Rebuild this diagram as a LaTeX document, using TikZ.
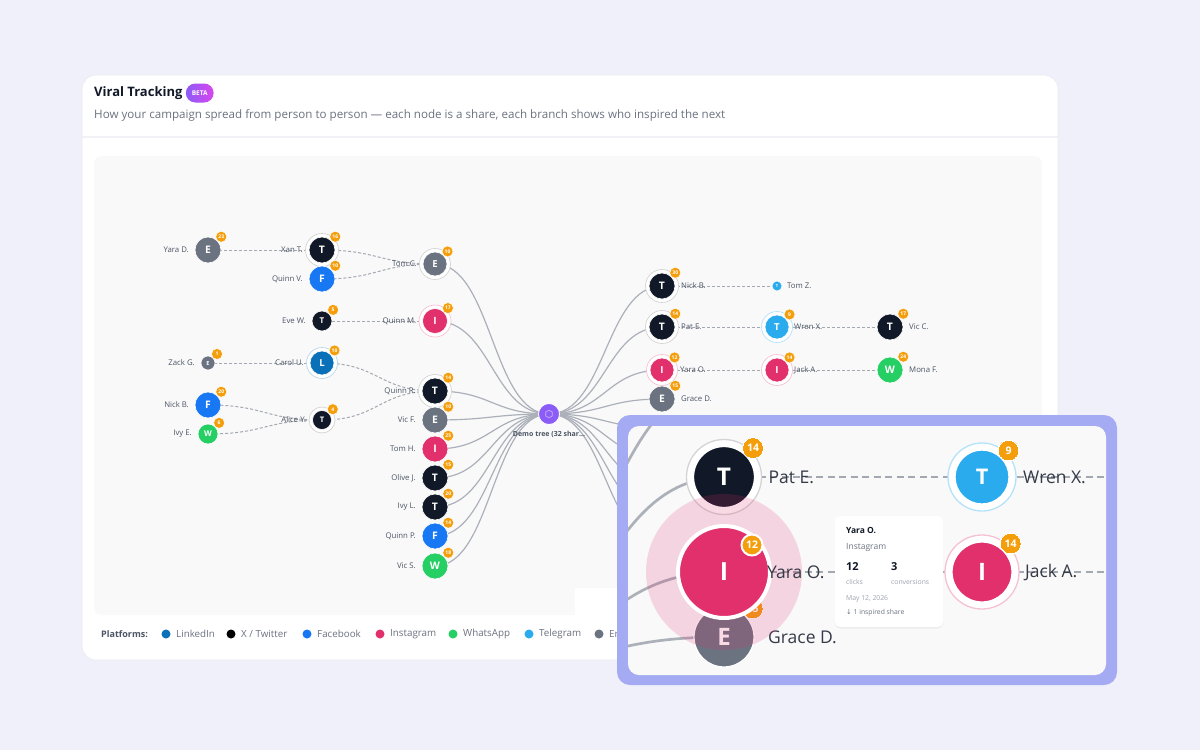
\documentclass[tikz,border=0pt]{standalone}
\usepackage{fontspec}
\setmainfont{Open Sans}
\newfontfamily\symfont{DejaVu Sans}
\usetikzlibrary{calc,positioning,shadows}

\definecolor{pageBg}{HTML}{F0F0FB}
\definecolor{cardLine}{HTML}{E9E9F1}
\definecolor{plotBg}{HTML}{F9F9FA}
\definecolor{inkDark}{HTML}{111827}
\definecolor{inkMid}{HTML}{4B5563}
\definecolor{inkSoft}{HTML}{6B7280}
\definecolor{inkFaint}{HTML}{9CA3AF}
\definecolor{linkGray}{HTML}{ABB0B9}
\definecolor{dashGray}{HTML}{A3A8B1}
\definecolor{xTwitter}{HTML}{111827}
\definecolor{linkedIn}{HTML}{0A70B8}
\definecolor{facebook}{HTML}{1877F2}
\definecolor{instagram}{HTML}{E1306C}
\definecolor{whatsApp}{HTML}{25CF63}
\definecolor{telegram}{HTML}{2AABEE}
\definecolor{emailGray}{HTML}{6B7280}
\definecolor{badgeOrange}{HTML}{F59E0B}
\definecolor{rootPurple}{HTML}{8B5CF6}
\definecolor{betaLeft}{HTML}{8B5CF6}
\definecolor{betaRight}{HTML}{D946EF}
\definecolor{zoomFrame}{HTML}{A5ABF2}

\pgfdeclarelayer{card}
\pgfdeclarelayer{links}
\pgfdeclarelayer{zoomframe}
\pgfdeclarelayer{zoomlinks}
\pgfdeclarelayer{zoomnodes}
\pgfsetlayers{card,links,main,zoomframe,zoomlinks,zoomnodes}

\begin{document}
\begin{tikzpicture}[x=1pt, y=-1pt,
  title/.style={font=\bfseries\fontsize{13}{15}\selectfont, text=inkDark, anchor=west, inner sep=0pt},
  subtitle/.style={font=\fontsize{11.6}{13}\selectfont, text=inkSoft, anchor=west, inner sep=0pt},
  beta pill/.style={rounded corners=9.5pt, left color=betaLeft, right color=betaRight, text=white, font=\bfseries\fontsize{6.5}{7}\selectfont, minimum height=19pt, inner xsep=6pt, inner ysep=0pt},
  share/.style 2 args={circle, inner sep=0pt, outer sep=0pt, minimum size=2*#1, fill=#2, draw=white, line width=0.6pt, text=white, font=\bfseries\fontsize{\fpeval{0.8*#1}}{\fpeval{#1}}\selectfont},
  halo/.style 2 args={circle, inner sep=0pt, outer sep=0pt, minimum size=2*#1, fill=white, draw=#2, line width=0.7pt},
  badge node/.style={circle, inner sep=0pt, minimum size=11pt, fill=badgeOrange, draw=white, line width=0.5pt, text=white, font=\bfseries\fontsize{5}{5}\selectfont},
  badge/.style={label={[badge node]45:#1}},
  who/.style={font=\fontsize{7.8}{9}\selectfont, text=inkMid, inner sep=0pt},
  root node/.style={circle, inner sep=0pt, outer sep=0pt, minimum size=21pt, fill=rootPurple, draw=white, line width=0.8pt},
  root text/.style={font=\bfseries\fontsize{7}{8}\selectfont, text=inkMid, inner sep=0pt},
  hex mark/.style={draw=white!55!rootPurple, line width=0.6pt},
  link h/.style={to path={let \p1=(\tikztostart), \p2=(\tikztotarget) in .. controls ({(\x1+\x2)/2},\y1) and ({(\x1+\x2)/2},\y2) .. (\tikztotarget)}},
  root link/.style={draw=linkGray, line width=1.2pt, link h},
  child link/.style={draw=dashGray, line width=1pt, dash pattern=on 3pt off 2pt, link h},
  legend title/.style={font=\bfseries\fontsize{9}{11}\selectfont, text=inkMid, anchor=west, inner sep=0pt},
  legend dot/.style={circle, inner sep=0pt, outer sep=0pt, minimum size=9pt, fill=#1},
  legend text/.style={font=\fontsize{9.8}{11}\selectfont, text=inkSoft, inner sep=0pt},
  zoom badge node/.style={badge node, minimum size=21pt, line width=0pt, font=\bfseries\fontsize{10.5}{11}\selectfont},
  zoom badge/.style={label={[zoom badge node]45:#1}},
  zoom who/.style={font=\fontsize{17.5}{20}\selectfont, text=inkDark!85, inner sep=0pt},
  zoom root link/.style={draw=linkGray, line width=2.7pt, link h},
  zoom child link/.style={draw=dashGray, line width=2.4pt, dash pattern=on 7pt off 4.5pt, link h},
  tooltip/.style={rounded corners=5pt, fill=white, minimum width=108pt, minimum height=111pt, inner sep=0pt, drop shadow={opacity=0.10, shadow xshift=0pt, shadow yshift=-1.5pt}},
  tip head/.style={font=\bfseries\fontsize{8.5}{10}\selectfont, text=inkDark, anchor=west, inner sep=0pt},
  tip sub/.style={font=\fontsize{8.5}{10}\selectfont, text=inkSoft, anchor=west, inner sep=0pt},
  tip value/.style={font=\bfseries\fontsize{11}{12}\selectfont, text=inkDark, anchor=west, inner sep=0pt},
  tip small/.style={font=\fontsize{6.8}{8}\selectfont, text=inkFaint, anchor=west, inner sep=0pt}
]

% Tree columns, one per depth. The root sits in the middle column.
\def\colA{208}
\def\colB{322}
\def\colC{435}
\def\colR{549}
\def\colD{662}
\def\colE{777}
\def\colF{890}

% -----------------------------------------------------------------------------
% Page, card and plot area.
% -----------------------------------------------------------------------------
\begin{pgfonlayer}{card}
  \fill[pageBg] (0,0) rectangle (1200,750);
  \filldraw[fill=white, draw=cardLine, line width=0.6pt, rounded corners=14pt] (82,75) rectangle (1058,660);
  \draw[cardLine!70, line width=1.2pt] (82,137) -- (1058,137);
  \fill[plotBg, rounded corners=8pt] (94,156) rectangle (1042,615);
  \fill[white] (575,588) rectangle (620,616);
\end{pgfonlayer}
\useasboundingbox (0,0) rectangle (1200,750);

\node[title] (title) at (94,93) {Viral Tracking};
\node[beta pill, right=3pt of title] (beta) {BETA};
\node[subtitle] (subtitle) at (94,115) {How your campaign spread from person to person — each node is a share, each branch shows who inspired the next};

% -----------------------------------------------------------------------------
% Root share.
% -----------------------------------------------------------------------------
\node[root node] (root) at (\colR,414) {};
\draw[hex mark] ($(root)+(30:3.8)$) -- ++(150:3.8) -- ++(210:3.8) -- ++(270:3.8) -- ++(330:3.8) -- ++(30:3.8) -- cycle;
\node[root text, below=6pt of root] (rootText) {Demo tree (32 shar…};

% -----------------------------------------------------------------------------
% Left half, depth 1.
% -----------------------------------------------------------------------------
\node[share={12}{emailGray}, badge=10] (tomC) at (\colC,264) {E};
\node[who, left=6pt of tomC] (tomCText) {Tom C.};
\node[share={12.5}{instagram}, badge=17] (quinnM) at (\colC,321) {I};
\node[who, left=6pt of quinnM] (quinnMText) {Quinn M.};
\node[share={13}{xTwitter}, badge=14] (quinnR) at (\colC,391) {T};
\node[who, left=6pt of quinnR] (quinnRText) {Quinn R.};
\node[share={13}{emailGray}, badge=10] (vicF) at (\colC,420) {E};
\node[who, left=6pt of vicF] (vicFText) {Vic F.};
\node[share={13}{instagram}, badge=25] (tomH) at (\colC,449) {I};
\node[who, left=6pt of tomH] (tomHText) {Tom H.};
\node[share={13}{xTwitter}, badge=15] (oliveJ) at (\colC,478) {T};
\node[who, left=6pt of oliveJ] (oliveJText) {Olive J.};
\node[share={13}{xTwitter}, badge=20] (ivyL) at (\colC,507) {T};
\node[who, left=6pt of ivyL] (ivyLText) {Ivy L.};
\node[share={13}{facebook}, badge=14] (quinnP) at (\colC,536) {F};
\node[who, left=6pt of quinnP] (quinnPText) {Quinn P.};
\node[share={13}{whatsApp}, badge=18] (vicS) at (\colC,566) {W};
\node[who, left=6pt of vicS] (vicSText) {Vic S.};

% Left half, depth 2.
\node[share={13}{xTwitter}, badge=16] (xanT) at (\colB,250) {T};
\node[who, left=6pt of xanT] (xanTText) {Xan T.};
\node[share={13}{facebook}, badge=10] (quinnV) at (\colB,279) {F};
\node[who, left=6pt of quinnV] (quinnVText) {Quinn V.};
\node[share={10}{xTwitter}, badge=5] (eveW) at (\colB,321) {T};
\node[who, left=6pt of eveW] (eveWText) {Eve W.};
\node[share={12}{linkedIn}, badge=10] (carolU) at (\colB,363) {L};
\node[who, left=6pt of carolU] (carolUText) {Carol U.};
\node[share={9.5}{xTwitter}, badge=4] (aliceY) at (\colB,420) {T};
\node[who, left=6pt of aliceY] (aliceYText) {Alice Y.};

% Left half, depth 3.
\node[share={13}{emailGray}, badge=23] (yaraD) at (\colA,250) {E};
\node[who, left=6pt of yaraD] (yaraDText) {Yara D.};
\node[share={7}{emailGray}, badge=1] (zackG) at (\colA,363) {E};
\node[who, left=6pt of zackG] (zackGText) {Zack G.};
\node[share={13}{facebook}, badge=20] (nickB) at (\colA,405) {F};
\node[who, left=6pt of nickB] (nickBText) {Nick B.};
\node[share={10}{whatsApp}, badge=6] (ivyE) at (\colA,434) {W};
\node[who, left=6pt of ivyE] (ivyEText) {Ivy E.};

% -----------------------------------------------------------------------------
% Right half.
% -----------------------------------------------------------------------------
\node[share={13}{xTwitter}, badge=30] (nickBR) at (\colD,286) {T};
\node[who, right=6pt of nickBR] (nickBRText) {Nick B.};
\node[share={13}{xTwitter}, badge=14] (patE) at (\colD,327) {T};
\node[who, right=6pt of patE] (patEText) {Pat E.};
\node[share={12}{instagram}, badge=12] (yaraO) at (\colD,370) {I};
\node[who, right=6pt of yaraO] (yaraOText) {Yara O.};
\node[share={13}{emailGray}, badge=15] (graceD) at (\colD,399) {E};
\node[who, right=6pt of graceD] (graceDText) {Grace D.};

\node[share={5}{telegram}] (tomZ) at (\colE,286) {T};
\node[who, right=5pt of tomZ] (tomZText) {Tom Z.};
\node[share={12}{telegram}, badge=9] (wrenX) at (\colE,327) {T};
\node[who, right=5pt of wrenX] (wrenXText) {Wren X.};
\node[share={12}{instagram}, badge=14] (jackA) at (\colE,370) {I};
\node[who, right=5pt of jackA] (jackAText) {Jack A.};

\node[share={13}{xTwitter}, badge=17] (vicC) at (\colF,327) {T};
\node[who, right=6pt of vicC] (vicCText) {Vic C.};
\node[share={13}{whatsApp}, badge=24] (monaF) at (\colF,370) {W};
\node[who, right=6pt of monaF] (monaFText) {Mona F.};

% Shares further down the right half, hidden under the zoom panel.
\coordinate (hidA) at (\colD,428);
\coordinate (hidB) at (\colD,457);
\coordinate (hidC) at (\colD,486);
\coordinate (hidD) at (\colD,515);
\coordinate (hidE) at (\colD,544);

% -----------------------------------------------------------------------------
% Links: solid from the root, dashed between shares. Halos mark inspirers.
% -----------------------------------------------------------------------------
\begin{pgfonlayer}{links}
  \draw[root link] (root.center) to (tomC.center);
  \draw[root link] (root.center) to (quinnM.center);
  \draw[root link] (root.center) to (quinnR.center);
  \draw[root link] (root.center) to (vicF.center);
  \draw[root link] (root.center) to (tomH.center);
  \draw[root link] (root.center) to (oliveJ.center);
  \draw[root link] (root.center) to (ivyL.center);
  \draw[root link] (root.center) to (quinnP.center);
  \draw[root link] (root.center) to (vicS.center);
  \draw[root link] (root.center) to (nickBR.center);
  \draw[root link] (root.center) to (patE.center);
  \draw[root link] (root.center) to (yaraO.center);
  \draw[root link] (root.center) to (graceD.center);
  \draw[root link] (root.center) to (hidA);
  \draw[root link] (root.center) to (hidB);
  \draw[root link] (root.center) to (hidC);
  \draw[root link] (root.center) to (hidD);
  \draw[root link] (root.center) to (hidE);

  \draw[child link] (tomC.center) to (xanT.center);
  \draw[child link] (tomC.center) to (quinnV.center);
  \draw[child link] (xanT.center) to (yaraD.center);
  \draw[child link] (quinnM.center) to (eveW.center);
  \draw[child link] (quinnR.center) to (carolU.center);
  \draw[child link] (quinnR.center) to (aliceY.center);
  \draw[child link] (carolU.center) to (zackG.center);
  \draw[child link] (aliceY.center) to (nickB.center);
  \draw[child link] (aliceY.center) to (ivyE.center);
  \draw[child link] (nickBR.center) to (tomZ.center);
  \draw[child link] (patE.center) to (wrenX.center);
  \draw[child link] (wrenX.center) to (vicC.center);
  \draw[child link] (yaraO.center) to (jackA.center);
  \draw[child link] (jackA.center) to (monaF.center);

  \node[halo={15.5}{black!17}] (tomCHalo) at (tomC) {};
  \node[halo={16}{instagram!30}] (quinnMHalo) at (quinnM) {};
  \node[halo={16.5}{black!17}] (quinnRHalo) at (quinnR) {};
  \node[halo={16.5}{black!17}] (xanTHalo) at (xanT) {};
  \node[halo={15.5}{linkedIn!28}] (carolUHalo) at (carolU) {};
  \node[halo={13}{black!17}] (aliceYHalo) at (aliceY) {};
  \node[halo={16.5}{black!17}] (nickBRHalo) at (nickBR) {};
  \node[halo={16.5}{black!17}] (patEHalo) at (patE) {};
  \node[halo={15.5}{instagram!30}] (yaraOHalo) at (yaraO) {};
  \node[halo={15.5}{telegram!35}] (wrenXHalo) at (wrenX) {};
  \node[halo={15.5}{instagram!30}] (jackAHalo) at (jackA) {};
\end{pgfonlayer}

% -----------------------------------------------------------------------------
% Legend.
% -----------------------------------------------------------------------------
\node[legend title] (legendTitle) at (101,634) {Platforms:};
\node[legend dot=linkedIn] (dotLinkedIn) at (166,634) {};
\node[legend text, right=5.5pt of dotLinkedIn] (txtLinkedIn) {LinkedIn};
\node[legend dot=black] (dotTwitter) at (231,634) {};
\node[legend text, right=5.5pt of dotTwitter] (txtTwitter) {X / Twitter};
\node[legend dot=facebook] (dotFacebook) at (307,634) {};
\node[legend text, right=5.5pt of dotFacebook] (txtFacebook) {Facebook};
\node[legend dot=instagram] (dotInstagram) at (380,634) {};
\node[legend text, right=5.5pt of dotInstagram] (txtInstagram) {Instagram};
\node[legend dot=whatsApp] (dotWhatsApp) at (453,634) {};
\node[legend text, right=5.5pt of dotWhatsApp] (txtWhatsApp) {WhatsApp};
\node[legend dot=telegram] (dotTelegram) at (529,634) {};
\node[legend text, right=5.5pt of dotTelegram] (txtTelegram) {Telegram};
\node[legend dot=emailGray] (dotEmail) at (599,634) {};
\node[legend text, right=5.5pt of dotEmail] (txtEmail) {Email};

% -----------------------------------------------------------------------------
% Zoom panel: the Pat E. / Yara O. rows at 2.24x, Yara O. hovered.
% -----------------------------------------------------------------------------
\begin{pgfonlayer}{zoomframe}
  \fill[zoomFrame, rounded corners=13pt] (617,415) rectangle (1117,685);
  \fill[plotBg, rounded corners=11pt] (628,426) rectangle (1106,675);
\end{pgfonlayer}

\coordinate (zRoot) at (471,670);
\coordinate (zNickB) at (724,383);
\coordinate (zVicC) at (1237,477);
\coordinate (zMonaF) at (1237,572);

\begin{pgfonlayer}{zoomnodes}
  \node[halo={37.5}{black!17}, line width=1.3pt] (zPatEHalo) at (724,477) {};
  \node[share={30.5}{xTwitter}, line width=1.3pt, zoom badge=14] (zPatE) at (724,477) {T};
  \node[zoom who, right=14pt of zPatE] (zPatEText) {Pat E.};
  \node[halo={34}{telegram!35}, line width=1.3pt] (zWrenXHalo) at (982,477) {};
  \node[share={27}{telegram}, line width=1.3pt, zoom badge=9] (zWrenX) at (982,477) {T};
  \node[zoom who, right=14pt of zWrenX] (zWrenXText) {Wren X.};
  \node[halo={37}{instagram!30}, line width=1.3pt] (zJackAHalo) at (982,572) {};
  \node[share={30}{instagram}, line width=1.3pt, zoom badge=14] (zJackA) at (982,572) {I};
  \node[zoom who, right=13pt of zJackA] (zJackAText) {Jack A.};
  \node[share={30}{emailGray}, line width=1.3pt, zoom badge=15] (zGraceD) at (724,637) {E};
  \node[zoom who, right=14pt of zGraceD] (zGraceDText) {Grace D.};

  % hover glow over the neighbours
  \fill[instagram, opacity=0.18] (724,572) circle[radius=78];
  \node[share={46}{instagram}, line width=4pt, font=\bfseries\fontsize{25}{28}\selectfont] (zYaraO) at (724,572) {I};
  \node[zoom badge node, draw=white, line width=2pt] (zYaraOBadge) at ($(zYaraO)+(28,-27)$) {12};
  \node[zoom who, right=43pt of zYaraO.center] (zYaraOText) {Yara O.};

  \node[tooltip] (zTip) at (889,571.5) {};
  \node[tip head] (zTipName) at (846,530) {Yara O.};
  \node[tip sub] (zTipPlatform) at (846,547) {Instagram};
  \node[tip value] (zTipClicks) at (846,567) {12};
  \node[tip value] (zTipConv) at (891,567) {3};
  \node[tip small] (zTipClicksText) at (846,582) {clicks};
  \node[tip small] (zTipConvText) at (891,582) {conversions};
  \node[tip small] (zTipDate) at (846,599) {May 12, 2026};
  \node[tip small, text=inkSoft] (zTipShares) at (846,613) {{\symfont ↓} 1 inspired share};
\end{pgfonlayer}

\begin{pgfonlayer}{zoomlinks}
  \begin{scope}
    \clip[rounded corners=11pt] (628,426) rectangle (1106,675);
    \draw[zoom root link] (zRoot) to (zNickB);
    \draw[zoom root link] (zRoot) to (zPatE.center);
    \draw[zoom root link] (zRoot) to (zYaraO.center);
    \draw[zoom root link] (zRoot) to (zGraceD.center);
    \draw[zoom child link] (zPatE.center) to (zWrenX.center);
    \draw[zoom child link] (zWrenX.center) to (zVicC);
    \draw[zoom child link] (zYaraO.center) to (zJackA.center);
    \draw[zoom child link] (zJackA.center) to (zMonaF);
  \end{scope}
\end{pgfonlayer}

\end{tikzpicture}
\end{document}
